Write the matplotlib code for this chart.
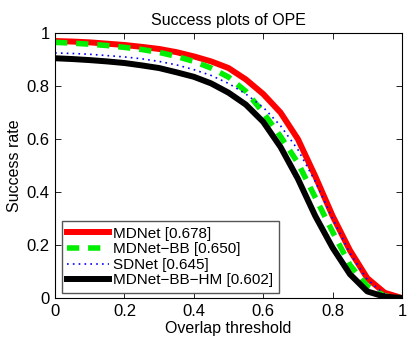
import matplotlib.pyplot as plt
import numpy as np

plt.rcParams['font.family'] = ['Liberation Sans', 'DejaVu Sans']

thresholds = np.arange(0, 1.0001, 0.05)
mdnet = [0.97, 0.968, 0.965, 0.96, 0.955, 0.948, 0.94, 0.928, 0.912, 0.893, 0.868,
         0.825, 0.77, 0.70, 0.60, 0.46, 0.31, 0.18, 0.075, 0.02, 0.0]
mdnet_bb = [0.965, 0.962, 0.958, 0.953, 0.946, 0.938, 0.927, 0.912, 0.893, 0.868, 0.834,
            0.78, 0.70, 0.61, 0.51, 0.38, 0.25, 0.125, 0.045, 0.008, 0.0]
sdnet = [0.925, 0.923, 0.92, 0.915, 0.91, 0.903, 0.893, 0.88, 0.862, 0.84, 0.81,
         0.77, 0.72, 0.65, 0.56, 0.44, 0.30, 0.17, 0.07, 0.015, 0.0]
mdnet_bb_hm = [0.905, 0.902, 0.898, 0.893, 0.887, 0.878, 0.868, 0.852, 0.835, 0.81, 0.775,
               0.73, 0.665, 0.57, 0.45, 0.31, 0.19, 0.09, 0.025, 0.005, 0.0]
labels = ['MDNet [0.678]', 'MDNet\u2212BB [0.650]', 'SDNet [0.645]', 'MDNet\u2212BB\u2212HM [0.602]']

fig = plt.figure(figsize=(4.11, 3.41), dpi=100)
ax = fig.add_axes([0.134, 0.126, 0.844, 0.777])

ax.plot(thresholds, mdnet, color='red', linewidth=4.3, label=labels[0])
ax.plot(thresholds, mdnet_bb, color='#00ee00', linewidth=4, linestyle=(0, (2.2, 1.6)), label=labels[1])
ax.plot(thresholds, sdnet, color='blue', linewidth=1.2, linestyle=(0, (1, 2.5)), label=labels[2])
ax.plot(thresholds, mdnet_bb_hm, color='black', linewidth=4.3, label=labels[3])

ax.set_xlim(0, 1)
ax.set_ylim(0, 1)
ax.set_xticks(np.arange(0, 1.01, 0.2))
ax.set_yticks(np.arange(0, 1.01, 0.2))
ax.set_xticklabels(['0', '0.2', '0.4', '0.6', '0.8', '1'])
ax.set_yticklabels(['0', '0.2', '0.4', '0.6', '0.8', '1'])
ax.tick_params(direction='in', top=True, right=True, labelsize=12, length=4, width=0.6, pad=4)
for s in ax.spines.values():
    s.set_linewidth(0.8)

ax.set_title('Success plots of OPE', fontsize=11.5, pad=6)
ax.set_xlabel('Overlap threshold', fontsize=11.5, labelpad=2)
ax.set_ylabel('Success rate', fontsize=11.5, labelpad=3)

leg = ax.legend(loc='lower left', fontsize=11, handlelength=2.7, borderpad=0.35,
                labelspacing=0.1, handletextpad=0.3, fancybox=False, framealpha=1,
                borderaxespad=0, bbox_to_anchor=(0.02, 0.02))
leg.get_frame().set_edgecolor('#555555')
leg.get_frame().set_linewidth(1.0)

fig.savefig('out.png', dpi=100)
